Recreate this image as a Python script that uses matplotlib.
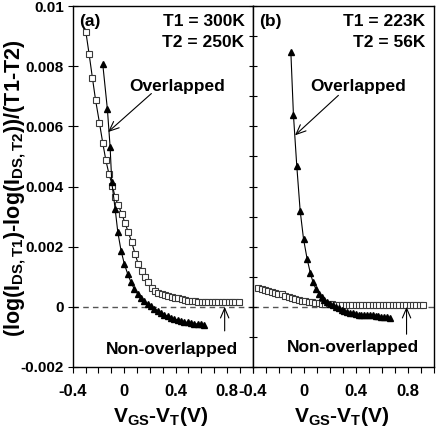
import numpy as np
import matplotlib
matplotlib.use("Agg")
import matplotlib.pyplot as plt

plt.rcParams['font.family'] = ['Liberation Sans', 'DejaVu Sans']
plt.rcParams['font.weight'] = 'bold'
plt.rcParams['mathtext.fontset'] = 'custom'
plt.rcParams['mathtext.rm'] = 'Liberation Sans:bold'
plt.rcParams['mathtext.bf'] = 'Liberation Sans:bold'
plt.rcParams['mathtext.it'] = 'Liberation Sans:bold'

# panel (a): T1 = 300K, T2 = 250K
sq_a_x = [-0.297, -0.272, -0.247, -0.222, -0.192, -0.166, -0.142, -0.117, -0.091, -0.070,
          -0.045, -0.018, 0.007, 0.033, 0.059, 0.085, 0.110, 0.137, 0.162, 0.188,
          0.214, 0.240, 0.266, 0.292, 0.318, 0.344, 0.370, 0.396, 0.422, 0.448,
          0.474, 0.500, 0.526, 0.552, 0.578, 0.604, 0.630, 0.656, 0.682, 0.708,
          0.734, 0.760, 0.786, 0.812, 0.838, 0.864, 0.890]
sq_a_y = [0.00912, 0.00839, 0.00762, 0.00687, 0.00612, 0.00544, 0.00487, 0.00440, 0.00403, 0.00364,
          0.00337, 0.00309, 0.00278, 0.00248, 0.00214, 0.00176, 0.00142, 0.00120, 0.00098, 0.00081,
          0.00064, 0.00053, 0.00047, 0.00042, 0.00039, 0.00035, 0.00032, 0.00030, 0.00028, 0.00025,
          0.00023, 0.00021, 0.00020, 0.00018, 0.00017, 0.00017, 0.00017, 0.00017, 0.00017, 0.00017,
          0.00017, 0.00017, 0.00017, 0.00017, 0.00017, 0.00017, 0.00017]
tri_a_x = [-0.166, -0.130, -0.109, -0.096, -0.070, -0.049, -0.024, 0.002, 0.028, 0.054,
           0.079, 0.105, 0.131, 0.157, 0.183, 0.209, 0.235, 0.261, 0.287, 0.313,
           0.339, 0.365, 0.391, 0.417, 0.443, 0.469, 0.495, 0.521, 0.547, 0.573,
           0.599, 0.625]
tri_a_y = [0.00806, 0.00656, 0.00531, 0.00414, 0.00326, 0.00248, 0.00187, 0.00142, 0.00109, 0.00081,
           0.00059, 0.00043, 0.00029, 0.00019, 0.00010, 0.00003, -0.00006, -0.00013, -0.00020, -0.00026,
           -0.00031, -0.00036, -0.00040, -0.00044, -0.00047, -0.00050, -0.00052, -0.00054, -0.00056, -0.00057,
           -0.00058, -0.00059]

# panel (b): T1 = 223K, T2 = 56K
sq_b_x = [-0.357, -0.331, -0.305, -0.279, -0.253, -0.227, -0.201, -0.175, -0.149, -0.123,
          -0.097, -0.071, -0.045, -0.019, 0.007, 0.033, 0.059, 0.085, 0.111, 0.137,
          0.163, 0.189, 0.215, 0.241, 0.267, 0.293, 0.319, 0.345, 0.371, 0.397,
          0.423, 0.449, 0.475, 0.501, 0.527, 0.553, 0.579, 0.605, 0.631, 0.657,
          0.683, 0.709, 0.735, 0.761, 0.787, 0.813, 0.839, 0.865, 0.891, 0.917]
sq_b_y = [0.00062, 0.00059, 0.00056, 0.00053, 0.00050, 0.00047, 0.00044, 0.00041, 0.00037, 0.00034,
          0.00031, 0.00027, 0.00024, 0.00021, 0.00019, 0.00017, 0.00015, 0.00014, 0.00012, 0.00011,
          0.00010, 0.00009, 0.00008, 0.00007, 0.00007, 0.00006, 0.00006, 0.00006, 0.00005, 0.00005,
          0.00005, 0.00005, 0.00005, 0.00005, 0.00005, 0.00005, 0.00005, 0.00005, 0.00005, 0.00005,
          0.00005, 0.00005, 0.00005, 0.00005, 0.00005, 0.00005, 0.00005, 0.00005, 0.00005, 0.00005]
tri_b_x = [-0.105, -0.085, -0.059, -0.033, -0.007, 0.021, 0.045, 0.067, 0.089, 0.111,
           0.133, 0.155, 0.177, 0.199, 0.221, 0.243, 0.265, 0.287, 0.309, 0.331,
           0.353, 0.375, 0.397, 0.419, 0.441, 0.463, 0.485, 0.507, 0.529, 0.551,
           0.573, 0.595, 0.617, 0.639, 0.661]
tri_b_y = [0.00848, 0.00639, 0.00468, 0.00320, 0.00226, 0.00159, 0.00114, 0.00081, 0.00059, 0.00044,
           0.00033, 0.00024, 0.00017, 0.00011, 0.00006, 0.00001, -0.00004, -0.00009, -0.00013, -0.00017,
           -0.00020, -0.00022, -0.00025, -0.00026, -0.00027, -0.00028, -0.00027, -0.00026, -0.00027, -0.00029,
           -0.00031, -0.00033, -0.00033, -0.00035, -0.00036]

panels = [
    dict(sq=(sq_a_x, sq_a_y), tri=(tri_a_x, tri_a_y), tag='(a)', t1='T1 = 300K', t2='T2 = 250K',
         over_text=(0.414, 0.00731), over_tail=(0.212, 0.00709), over_head=(-0.125, 0.00581),
         non_text=(0.372, -0.00143), non_tail=(0.782, -0.00080), non_head=(0.782, 0.0)),
    dict(sq=(sq_b_x, sq_b_y), tri=(tri_b_x, tri_b_y), tag='(b)', t1='T1 = 223K', t2='T2 = 56K',
         over_text=(0.419, 0.00733), over_tail=(0.263, 0.00703), over_head=(-0.073, 0.00570),
         non_text=(0.379, -0.00136), non_tail=(0.790, -0.00091), non_head=(0.790, 0.0)),
]

fig = plt.figure(figsize=(4.39, 4.32), dpi=100)
W, H = 439, 432
axes = [fig.add_axes([72.7 / W, 1 - 367 / H, 180 / W, 361 / H]),
        fig.add_axes([252.7 / W, 1 - 367 / H, 181 / W, 361 / H])]

for i, (ax, p) in enumerate(zip(axes, panels)):
    ax.axhline(0, color='#555555', lw=1.0, ls=(0, (4, 3)), zorder=1)
    ax.plot(*p['sq'], color='black', lw=0.8, marker='s', ms=3.8, mfc='white',
            mec='#3a3a3a', mew=0.8, zorder=3)
    ax.plot(*p['tri'], color='black', lw=0.8, marker='^', ms=4.6, mfc='black',
            mec='black', zorder=4)

    ax.set_xlim(-0.4, 1.0)
    ax.set_ylim(-0.002, 0.01)
    ax.set_xticks(np.arange(-0.4, 1.01, 0.1))
    ax.set_xticklabels(['-0.4', '', '', '', '0', '', '', '', '0.4', '', '', '', '0.8', '', ''],
                       fontsize=12, fontweight='bold')
    ax.tick_params(axis='x', direction='out', length=4, width=0.8, pad=8)
    if i == 0:
        ax.set_yticks([-0.002, 0, 0.002, 0.004, 0.006, 0.008, 0.01])
        ax.set_yticklabels(['-0.002', '0', '0.002', '0.004', '0.006', '0.008', '0.01'],
                           fontsize=11, fontweight='bold')
        ax.tick_params(axis='y', direction='inout', length=7, width=0.8, pad=3)
    else:
        ax.set_yticks(np.arange(-0.002, 0.0101, 0.001))
        ax.set_yticklabels([])
        ax.tick_params(axis='y', direction='inout', length=6, width=0.8)
    for s in ax.spines.values():
        s.set_linewidth(1.0)

    ax.text(0.035, 0.958, p['tag'], transform=ax.transAxes, fontsize=12.5,
            fontweight='bold', ha='left', va='center')
    ax.text(0.955, 0.958, p['t1'], transform=ax.transAxes, fontsize=12.5,
            fontweight='bold', ha='right', va='center')
    ax.text(0.955, 0.898, p['t2'], transform=ax.transAxes, fontsize=12.5,
            fontweight='bold', ha='right', va='center')

    ax.text(*p['over_text'], 'Overlapped', fontsize=12.5, fontweight='bold',
            ha='center', va='center')
    ax.annotate('', xy=p['over_head'], xytext=p['over_tail'],
                arrowprops=dict(arrowstyle='->,head_length=0.7,head_width=0.3',
                                lw=0.8, color='black', shrinkA=0, shrinkB=0))
    ax.text(*p['non_text'], 'Non-overlapped', fontsize=12.5, fontweight='bold',
            ha='center', va='center')
    ax.annotate('', xy=p['non_head'], xytext=p['non_tail'],
                arrowprops=dict(arrowstyle='->,head_length=0.7,head_width=0.3',
                                lw=0.8, color='black', shrinkA=0, shrinkB=0))

    ax.text(0.49, -0.152, r'V$_{\mathbf{GS}}$-V$_{\mathbf{T}}$(V)', transform=ax.transAxes,
            fontsize=15, fontweight='bold', ha='center', va='baseline')

fig.text(15 / W, 1 - 188 / H,
         r'(log(I$_{\mathbf{DS,T1}}$)-log(I$_{\mathbf{DS,T2}}$))/(T1-T2)',
         rotation=90, ha='center', va='center', fontsize=15.5, fontweight='bold')

fig.savefig('out.png', dpi=100)
